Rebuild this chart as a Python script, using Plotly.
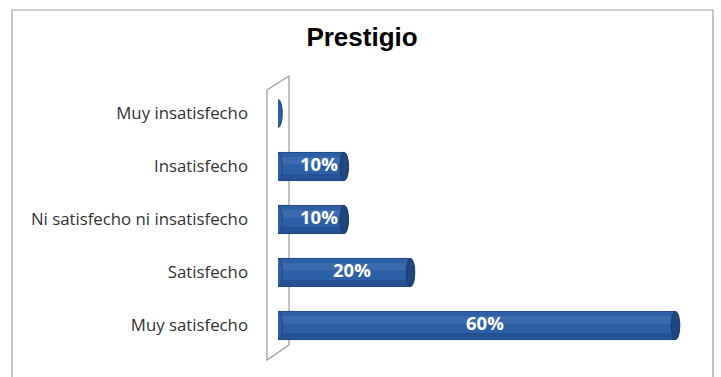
import plotly.graph_objects as go

categories = ["Muy insatisfecho", "Insatisfecho", "Ni satisfecho ni insatisfecho", "Satisfecho", "Muy satisfecho"]
values = [0.0, 0.10, 0.10, 0.20, 0.60]
labels = ["", "10%", "10%", "20%", "60%"]

W, H = 721, 377
L, R, T, B = 278, 19, 87, 25
pw, ph = W - L - R, H - T - B

def px_x(p):
    return (p - L) / pw

def px_y(p):
    return (H - B - p) / ph

bar_w = 0.53
main = "#2C5FA6"
dark = "#1E4780"

fig = go.Figure()
fig.add_trace(go.Bar(
    y=categories, x=values, orientation="h", width=bar_w,
    marker=dict(color=main, line=dict(color=dark, width=1)),
    hoverinfo="skip", showlegend=False,
))
# cylinder sheen / shadow bands
fig.add_trace(go.Bar(
    y=categories, x=values, orientation="h", width=0.14, offset=0.04,
    marker=dict(color="rgba(255,255,255,0.08)", line=dict(width=0)),
    hoverinfo="skip", showlegend=False,
))
fig.add_trace(go.Bar(
    y=categories, x=values, orientation="h", width=0.12, offset=-0.26,
    marker=dict(color="rgba(0,20,60,0.18)", line=dict(width=0)),
    hoverinfo="skip", showlegend=False,
))

shapes = []
# wall (back plane)
x1, x2 = px_x(267), px_x(289)
path = f"M {x1},{px_y(90)} L {x2},{px_y(76)} L {x2},{px_y(345)} L {x1},{px_y(360)} Z"
shapes.append(dict(type="path", xref="paper", yref="paper", path=path,
                   line=dict(color="#9a9a9a", width=1.2), fillcolor="rgba(255,255,255,0)", layer="below"))
# outer frame
shapes.append(dict(type="rect", xref="paper", yref="paper",
                   x0=px_x(12), x1=px_x(713), y0=px_y(10), y1=px_y(400),
                   line=dict(color="#a0a0a0", width=1.2), fillcolor="rgba(0,0,0,0)", layer="below"))
cap = 0.0065
for i, (c, v) in enumerate(zip(categories, values)):
    yi = 4 - i
    shapes.append(dict(type="circle", xref="x", yref="y", x0=-cap, x1=cap,
                       y0=yi - bar_w / 2, y1=yi + bar_w / 2,
                       fillcolor=main, line=dict(color=dark, width=1), layer="above"))
    if v > 0:
        shapes.append(dict(type="circle", xref="x", yref="y", x0=v - cap, x1=v + cap,
                           y0=yi - bar_w / 2, y1=yi + bar_w / 2,
                           fillcolor=dark, line=dict(color="#173a6b", width=1), layer="above"))

annotations = []
for c, v, t in zip(categories, values, labels):
    if t:
        annotations.append(dict(x=v / 2 + 0.012, y=c, xref="x", yref="y", text=f"<b>{t}</b>",
                                showarrow=False, yshift=3,
                                font=dict(family="Open Sans, Arial", size=18.5, color="white")))

fig.update_layout(
    width=W, height=H,
    margin=dict(l=L, r=R, t=T, b=B),
    paper_bgcolor="white", plot_bgcolor="white",
    barmode="overlay",
    title=dict(text="<b>Prestigio</b>", x=362 / W, xanchor="center", y=1 - 37 / H, yanchor="middle",
               font=dict(family="Liberation Sans, Arial", size=26, color="black")),
    xaxis=dict(range=[0, 0.64], visible=False, fixedrange=True),
    yaxis=dict(categoryorder="array", categoryarray=categories[::-1], showgrid=False,
               showline=False, ticks="", ticklabelstandoff=29,
               tickfont=dict(family="Open Sans, Arial", size=16.8, color="#333333")),
    shapes=shapes, annotations=annotations,
)

fig.write_html("out.html", config={"displayModeBar": False},
               post_script="document.body.style.margin='0px';")
